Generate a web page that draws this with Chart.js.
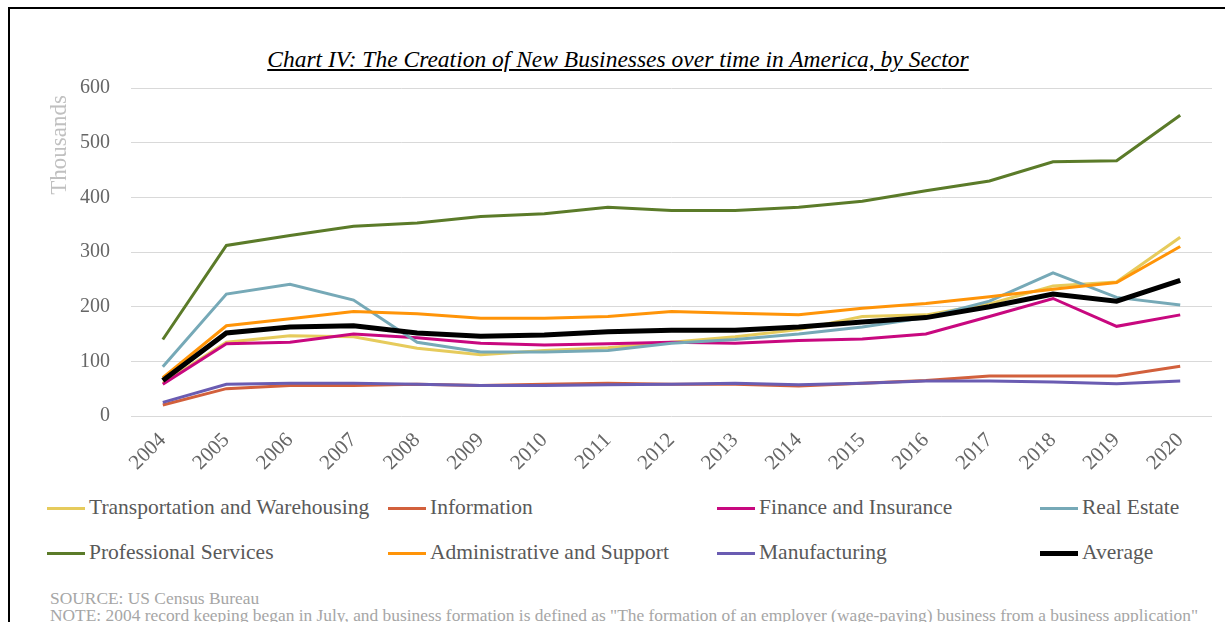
<!DOCTYPE html>
<html>
<head>
<meta charset="utf-8">
<script src="https://cdn.jsdelivr.net/npm/chart.js@4"></script>
<style>
  body { margin: 0; background: #fff; width: 1225px; height: 622px; overflow: hidden; position: relative; font-family: "Liberation Serif", "Times New Roman", serif; }
  #frame { position: absolute; left: 8px; top: 7px; width: 1300px; height: 700px; border-left: 2px solid #000; border-top: 2px solid #000; }
  #wrap { position: absolute; left: 0; top: 0; width: 1225px; height: 490px; }
  #title { position: absolute; left: 0; width: 1236px; top: 46px; text-align: center; font-style: italic; font-size: 23.5px; color: #000; text-decoration: underline; }
  #legend { position: absolute; left: 0; top: 495px; width: 1225px; height: 80px; }
  .item { position: absolute; font-size: 21.5px; color: #595959; white-space: nowrap; }
  .item span.sw { display: inline-block; width: 38px; vertical-align: middle; margin-right: 4px; position: relative; top: -1px; }
  #source { position: absolute; left: 50px; top: 590px; font-size: 17.4px; color: #a6a6a6; white-space: nowrap; line-height: 17px; }
</style>
</head>
<body>
<div id="frame"></div>
<div id="title">Chart IV: The Creation of New Businesses over time in America, by Sector</div>
<div id="wrap"><canvas id="chart" width="1225" height="490"></canvas></div>
<div id="legend"></div>
<div id="source">SOURCE: US Census Bureau<br>NOTE: 2004 record keeping began in July, and business formation is defined as "The formation of an employer (wage-paying) business from a business application"</div>
<script>
// values in thousands
const years = ['2004', '2005', '2006', '2007', '2008', '2009', '2010', '2011', '2012', '2013', '2014', '2015', '2016', '2017', '2018', '2019', '2020'];
const yTicks = [0, 100, 200, 300, 400, 500, 600];

const transportation = [60, 135, 147, 145, 124, 112, 120, 125, 135, 145, 158, 182, 185, 205, 238, 245, 327];
const information = [20, 50, 56, 56, 58, 56, 58, 60, 58, 58, 55, 60, 65, 73, 73, 73, 91];
const finance = [58, 132, 135, 150, 143, 133, 130, 132, 135, 133, 138, 141, 150, 182, 215, 164, 185];
const realEstate = [90, 223, 241, 212, 135, 117, 117, 120, 133, 140, 150, 163, 180, 210, 262, 217, 203];
const professional = [140, 312, 330, 347, 353, 365, 370, 382, 376, 376, 382, 393, 412, 430, 465, 467, 550];
const administrative = [70, 165, 178, 191, 187, 179, 179, 182, 191, 188, 185, 197, 206, 218, 232, 244, 310];
const manufacturing = [25, 58, 60, 60, 58, 56, 56, 57, 58, 60, 57, 60, 64, 64, 62, 59, 64];
const average = [65, 152, 163, 165, 152, 146, 148, 154, 157, 157, 163, 172, 180, 200, 223, 210, 248];

const series = [
    { label: 'Transportation and Warehousing', data: transportation, color: '#e6cb5c', width: 3 },
    { label: 'Information', data: information, color: '#d2603c', width: 3 },
    { label: 'Finance and Insurance', data: finance, color: '#c8087f', width: 3 },
    { label: 'Real Estate', data: realEstate, color: '#76a9b7', width: 3 },
    { label: 'Professional Services', data: professional, color: '#5b7b29', width: 3 },
    { label: 'Administrative and Support', data: administrative, color: '#ff9408', width: 3 },
    { label: 'Manufacturing', data: manufacturing, color: '#6a5cb2', width: 3 },
    { label: 'Average', data: average, color: '#000000', width: 5 }
];

// rotated "Thousands" at the top of the value axis, like Excel puts it
const axisTitle = {
    id: 'axisTitle',
    afterDraw(chart) {
        const c = chart.ctx;
        const y = chart.scales.y;
        c.save();
        c.translate(60, y.top + 57);
        c.rotate(-Math.PI / 2);
        c.font = '23px "Liberation Serif"';
        c.fillStyle = '#c0c0c0';
        c.textAlign = 'center';
        c.textBaseline = 'middle';
        c.fillText('Thousands', 0, 0);
        c.restore();
    }
};

const ctx = document.getElementById('chart').getContext('2d');
const chart = new Chart(ctx, {
    type: 'line',
    data: {
        labels: years,
        datasets: series.map((s, i) => ({
            label: s.label,
            data: s.data,
            borderColor: s.color,
            backgroundColor: s.color,
            borderWidth: s.width,
            pointRadius: 0,
            tension: 0,
            order: series.length - i
        }))
    },
    options: {
        responsive: false,
        animation: false,
        layout: { padding: { left: 0, right: 13, top: 88, bottom: 0 } },
        plugins: {
            legend: { display: false },
            title: { display: false },
            tooltip: { enabled: false }
        },
        scales: {
            x: {
                offset: true,
                grid: { display: false },
                border: { display: false },
                ticks: {
                    color: '#666',
                    font: { family: 'Liberation Serif', size: 21 },
                    minRotation: 45,
                    maxRotation: 45,
                    padding: 4
                },
                afterFit(scale) { scale.height = 74; }
            },
            y: {
                min: 0,
                max: 600,
                afterBuildTicks(scale) { scale.ticks = yTicks.map(v => ({ value: v })); },
                grid: { color: '#d9d9d9', lineWidth: 1, drawTicks: false },
                border: { display: false },
                ticks: {
                    color: '#666',
                    font: { family: 'Liberation Serif', size: 20 },
                    padding: 21
                },
                afterFit(scale) { scale.width = 131; }
            }
        }
    },
    plugins: [axisTitle]
});

// html legend in four columns, built from the same series
const cols = [47, 388, 717, 1040];
const rows = [0, 45];
const legend = document.getElementById('legend');
series.forEach((s, i) => {
    const el = document.createElement('div');
    el.className = 'item';
    el.style.left = cols[i % 4] + 'px';
    el.style.top = rows[Math.floor(i / 4)] + 'px';
    const sw = document.createElement('span');
    sw.className = 'sw';
    sw.style.borderTop = s.width + 'px solid ' + s.color;
    el.appendChild(sw);
    el.appendChild(document.createTextNode(s.label));
    legend.appendChild(el);
});
</script>
</body>
</html>
